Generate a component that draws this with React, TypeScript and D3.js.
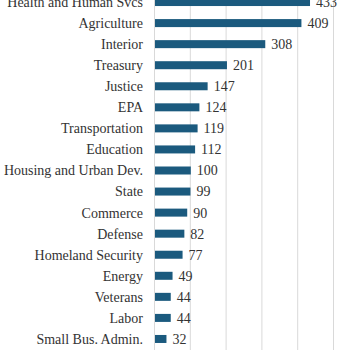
import React from 'react';
import * as d3 from 'd3';

const departments = [
  'Health and Human Svcs',
  'Agriculture',
  'Interior',
  'Treasury',
  'Justice',
  'EPA',
  'Transportation',
  'Education',
  'Housing and Urban Dev.',
  'State',
  'Commerce',
  'Defense',
  'Homeland Security',
  'Energy',
  'Veterans',
  'Labor',
  'Small Bus. Admin.'
];

const counts = [433, 409, 308, 201, 147, 124, 119, 112, 100, 99, 90, 82, 77, 49, 44, 44, 32];

const gridTicks = [0, 100, 200, 300, 400, 500];

const width = 350;
const height = 350;

const data = departments.map((name, i) => ({ name, value: counts[i] }));

// échelles
const x = d3.scaleLinear().domain([0, 500]).range([154, 333]);

const y = d3
  .scaleBand()
  .domain(departments)
  .range([-8.5, 349.5])
  .paddingInner(0.62)
  .paddingOuter(0.31);

const textStyle = {
  fontFamily: "'Times New Roman', Times, 'Liberation Serif', 'DejaVu Serif', serif",
  fontSize: '14px'
};

export default function App() {
  return (
    <svg
      width={width}
      height={height}
      style={{ position: 'absolute', left: 0, top: 0, background: '#fff' }}
    >
      {gridTicks.map(t => (
        <line
          key={t}
          x1={x(t) + 0.5}
          x2={x(t) + 0.5}
          y1={0}
          y2={height}
          stroke="#d9d9d9"
          strokeWidth={1}
        />
      ))}
      {data.map(d => {
        const cy = (y(d.name) as number) + y.bandwidth() / 2;
        return (
          <g key={d.name}>
            <rect
              x={x(0) + 1}
              y={y(d.name)}
              width={x(d.value) - x(0)}
              height={y.bandwidth()}
              fill="#1b5a7e"
            />
            <text x={143} y={cy} dy="0.35em" textAnchor="end" style={textStyle} fill="#333">
              {d.name}
            </text>
            <text x={x(d.value) + 7} y={cy} dy="0.35em" style={textStyle} fill="#333">
              {d.value}
            </text>
          </g>
        );
      })}
    </svg>
  );
}
